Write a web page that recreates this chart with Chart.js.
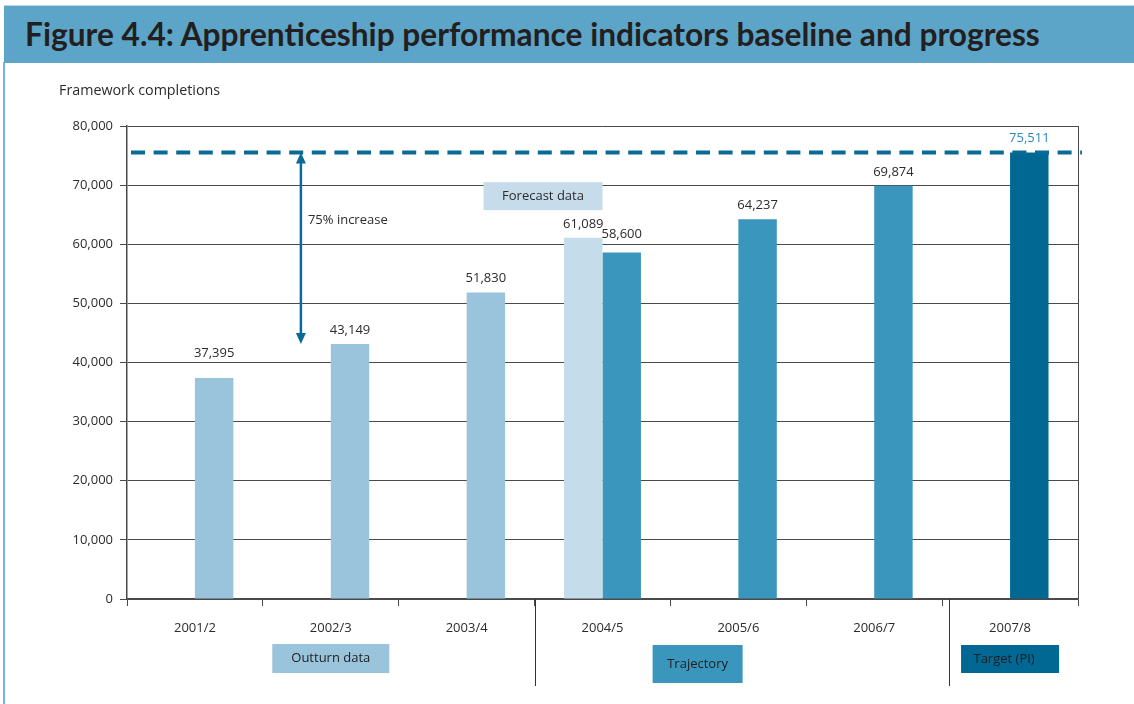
<!DOCTYPE html>
<html>
<head>
<meta charset="utf-8">
<script src="https://cdn.jsdelivr.net/npm/chart.js@4"></script>
<style>
  html, body { margin: 0; padding: 0; background: #fff; }
  #page { position: relative; width: 1134px; height: 704px; overflow: hidden; }
  #band {
    position: absolute; left: 4px; top: 5px; width: 1130px; height: 57px;
    background: #5ca4c8; border-top: 1px solid #b9d9ea;
  }
  #band h1 {
    position: absolute; left: 21px; top: 8px; margin: 0;
    font: bold 32px Lato, "Open Sans", sans-serif; color: #231f20;
    white-space: nowrap; transform-origin: 0 50%;
  }
  #frame { position: absolute; left: 3px; top: 62px; width: 1131px; height: 642px; border-left: 2px solid #74b4da; }
  #wrap { position: absolute; left: 0; top: 0; width: 1134px; height: 704px; }
</style>
</head>
<body>
<div id="page">
  <div id="frame"></div>
  <div id="band"><h1 id="title">Figure 4.4: Apprenticeship performance indicators baseline and progress</h1></div>
  <div id="wrap"><canvas id="chart"></canvas></div>
</div>
<script>
// Framework completions by year
const years = ['2001/2', '2002/3', '2003/4', '2004/5', '2005/6', '2006/7', '2007/8'];
const outturn = [37395, 43149, 51830, null, null, null, null];
const forecast = [null, null, null, 61089, null, null, null];
const trajectory = [null, null, null, 58600, 64237, 69874, null];
const target = [null, null, null, null, null, null, 75511];
const baseline = 43149;   // 2002/3 outturn, start of the 75% arrow
const targetLevel = 75511;

const axisColor = '#4a4a4a';
const textColor = '#2b2b2b';

// squeeze the heading to the width of the band text
const title = document.getElementById('title');
title.style.transform = 'scaleX(' + (1015 / title.scrollWidth) + ')';

Chart.defaults.font.family = '"Open Sans", sans-serif';
Chart.defaults.font.size = 13;
Chart.defaults.color = textColor;

function fmt(v) {
  return v.toLocaleString('en-GB');
}

// annotations: value labels, target line, arrow, section boxes
const extras = {
  id: 'extras',
  afterDatasetsDraw(chart) {
    const ctx = chart.ctx;
    const xs = chart.scales.x;
    const ys = chart.scales.y;
    const area = chart.chartArea;
    const catW = xs.getPixelForValue(1) - xs.getPixelForValue(0);

    ctx.save();

    // right edge of the plot box
    ctx.strokeStyle = axisColor;
    ctx.lineWidth = 1;
    ctx.beginPath();
    ctx.moveTo(area.right + 0.5, area.top);
    ctx.lineTo(area.right + 0.5, area.bottom);
    ctx.stroke();

    // target dashed line
    const ty = ys.getPixelForValue(targetLevel);
    ctx.strokeStyle = '#0a6a96';
    ctx.lineWidth = 4;
    ctx.setLineDash([14, 8.6]);
    ctx.beginPath();
    ctx.moveTo(area.left + 4, ty);
    ctx.lineTo(area.right + 4, ty);
    ctx.stroke();
    ctx.setLineDash([]);

    // double arrow showing the 75% increase
    const ax = xs.getPixelForValue(1) - catW * 0.22;
    const by = ys.getPixelForValue(baseline);
    ctx.strokeStyle = '#0a6a96';
    ctx.fillStyle = '#0a6a96';
    ctx.lineWidth = 2.5;
    ctx.beginPath();
    ctx.moveTo(ax, ty + 8);
    ctx.lineTo(ax, by - 8);
    ctx.stroke();
    ctx.beginPath();
    ctx.moveTo(ax, ty);
    ctx.lineTo(ax - 5, ty + 11);
    ctx.lineTo(ax + 5, ty + 11);
    ctx.closePath();
    ctx.fill();
    ctx.beginPath();
    ctx.moveTo(ax, by);
    ctx.lineTo(ax - 5, by - 11);
    ctx.lineTo(ax + 5, by - 11);
    ctx.closePath();
    ctx.fill();

    ctx.font = '13px "Open Sans", sans-serif';
    ctx.fillStyle = textColor;
    ctx.textAlign = 'left';
    ctx.textBaseline = 'middle';
    ctx.fillText('75% increase', ax + 7, ys.getPixelForValue(64100));

    // value labels above each bar, lifted clear of a grid line
    ctx.textAlign = 'center';
    chart.data.datasets.forEach((ds, i) => {
      const meta = chart.getDatasetMeta(i);
      meta.data.forEach((bar, j) => {
        const v = ds.data[j];
        if (v == null) return;
        let cy = bar.y - 14;
        const grid = ys.getPixelForValue(Math.ceil(v / 10000) * 10000);
        if (Math.abs(cy - grid) < 8) cy = grid - 9.5;
        ctx.fillStyle = ds.labelColor || textColor;
        ctx.fillText(fmt(v), bar.x, cy);
      });
    });

    // "Forecast data" tag
    const fx = xs.getPixelForValue(3);
    ctx.fillStyle = '#c6dcea';
    ctx.fillRect(fx - 119, ys.getPixelForValue(70500), 119, 28);
    ctx.fillStyle = textColor;
    ctx.fillText('Forecast data', fx - 59.5, ys.getPixelForValue(70500) + 14);

    // separators between outturn, trajectory and target
    ctx.strokeStyle = '#333';
    ctx.lineWidth = 1;
    [2.5, 5.55].forEach(k => {
      const sx = Math.round(xs.getPixelForValue(k)) + 0.5;
      ctx.beginPath();
      ctx.moveTo(sx, area.bottom);
      ctx.lineTo(sx, area.bottom + 87);
      ctx.stroke();
    });

    // section tags under the axis
    const tags = [
      { text: 'Outturn data', cx: xs.getPixelForValue(1), w: 117, top: 644, h: 29, fill: '#9ac3dc' },
      { text: 'Trajectory', cx: xs.getPixelForValue(3.7), w: 90, top: 645, h: 38, fill: '#3b96bd' },
      { text: 'Target (PI)', cx: xs.getPixelForValue(6), w: 98, top: 645, h: 28, fill: '#006892' }
    ];
    tags.forEach(t => {
      ctx.fillStyle = t.fill;
      ctx.fillRect(t.cx - t.w / 2, t.top, t.w, t.h);
      ctx.fillStyle = '#1e1e1e';
      ctx.fillText(t.text, t.cx - (t.text === 'Target (PI)' ? 6 : 0), t.top + t.h / 2);
    });

    // axis title
    ctx.font = '14.3px "Open Sans", sans-serif';
    ctx.textAlign = 'left';
    ctx.fillStyle = textColor;
    ctx.fillText('Framework completions', 59, 91);

    ctx.restore();
  }
};

new Chart(document.getElementById('chart'), {
  type: 'bar',
  data: {
    labels: years,
    datasets: [
      { label: 'Forecast data', data: forecast, backgroundColor: '#c5dcea', stack: 'forecast' },
      { label: 'Outturn data', data: outturn, backgroundColor: '#9ac3dc', stack: 'main' },
      { label: 'Trajectory', data: trajectory, backgroundColor: '#3b96bd', stack: 'main' },
      { label: 'Target (PI)', data: target, backgroundColor: '#006892', stack: 'main', labelColor: '#2f87b6' }
    ]
  },
  options: {
    responsive: true,
    maintainAspectRatio: false,
    animation: false,
    categoryPercentage: 0.566,
    barPercentage: 1,
    layout: { padding: { left: 0, right: 56, top: 126, bottom: 0 } },
    plugins: {
      legend: { display: false },
      tooltip: { enabled: false }
    },
    scales: {
      x: {
        grid: { drawOnChartArea: false, drawTicks: true, tickLength: 7, color: axisColor, offset: true },
        border: { color: axisColor, width: 1.5 },
        ticks: { padding: 14, color: textColor, font: { size: 13 } },
        afterFit(s) { s.height = 105; }
      },
      y: {
        stacked: true,
        min: 0,
        max: 80000,
        ticks: { stepSize: 10000, padding: 7, color: textColor, callback: v => fmt(v) },
        grid: { color: axisColor, lineWidth: 1, tickLength: 7 },
        border: { color: axisColor, width: 1.5 },
        afterFit(s) { s.width = 127; }
      }
    }
  },
  plugins: [extras]
});
</script>
</body>
</html>
